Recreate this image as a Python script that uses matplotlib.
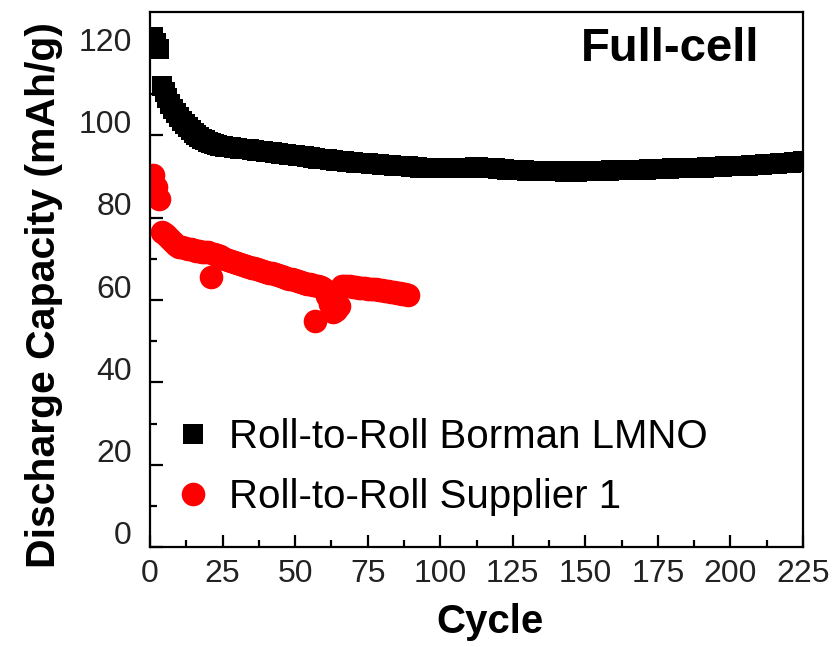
import matplotlib
matplotlib.use("Agg")
import matplotlib.pyplot as plt
import matplotlib.transforms as mtransforms
import numpy as np

plt.rcParams["font.family"] = ["Liberation Sans", "DejaVu Sans"]

# Roll-to-Roll Borman LMNO, cycles 1..225 (mAh/g)
borman_capacity = [
    124.0, 122.5, 121.0, 112.0, 110.5, 109.0, 107.7, 106.5, 105.4, 104.4,
    103.5, 102.7, 102.0, 101.3, 100.7, 100.2, 99.7, 99.2, 98.8, 98.4,
    98.1, 97.9, 97.7, 97.5, 97.4, 97.3, 97.2, 97.1, 97.0, 96.9,
    96.8, 96.7, 96.7, 96.6, 96.5, 96.4, 96.3, 96.2, 96.2, 96.1,
    96.0, 95.9, 95.8, 95.7, 95.6, 95.5, 95.4, 95.3, 95.3, 95.2,
    95.1, 95.0, 94.9, 94.8, 94.7, 94.6, 94.5, 94.4, 94.4, 94.3,
    94.2, 94.1, 94.0, 93.9, 93.8, 93.8, 93.7, 93.6, 93.5, 93.5,
    93.4, 93.4, 93.3, 93.2, 93.2, 93.1, 93.1, 93.0, 93.0, 92.9,
    92.9, 92.8, 92.8, 92.7, 92.7, 92.6, 92.6, 92.5, 92.5, 92.4,
    92.3, 92.3, 92.2, 92.2, 92.1, 92.1, 92.0, 92.0, 92.0, 92.0,
    92.0, 92.0, 92.0, 92.0, 92.0, 92.1, 92.1, 92.1, 92.2, 92.2,
    92.2, 92.3, 92.3, 92.2, 92.2, 92.1, 92.1, 92.0, 92.0, 91.9,
    91.8, 91.8, 91.7, 91.7, 91.6, 91.6, 91.5, 91.5, 91.5, 91.4,
    91.4, 91.4, 91.4, 91.3, 91.3, 91.3, 91.3, 91.3, 91.3, 91.3,
    91.3, 91.3, 91.2, 91.2, 91.2, 91.2, 91.2, 91.3, 91.3, 91.3,
    91.3, 91.3, 91.3, 91.4, 91.4, 91.4, 91.4, 91.4, 91.5, 91.5,
    91.5, 91.5, 91.5, 91.6, 91.6, 91.6, 91.6, 91.7, 91.7, 91.7,
    91.7, 91.8, 91.8, 91.8, 91.8, 91.9, 91.9, 91.9, 91.9, 92.0,
    92.0, 92.0, 92.0, 92.1, 92.1, 92.1, 92.1, 92.2, 92.2, 92.2,
    92.2, 92.3, 92.3, 92.3, 92.4, 92.4, 92.4, 92.5, 92.5, 92.5,
    92.6, 92.6, 92.6, 92.7, 92.7, 92.7, 92.8, 92.8, 92.8, 92.9,
    92.9, 93.0, 93.0, 93.0, 93.1, 93.1, 93.2, 93.2, 93.3, 93.3,
    93.4, 93.5, 93.5, 93.6, 93.7,
]
borman_cycle = np.arange(1, len(borman_capacity) + 1)

# Roll-to-Roll Supplier 1, cycles 1..89 (mAh/g)
supplier_capacity = [
    90.5, 87.5, 84.5, 76.5, 76.0, 75.5, 74.8, 74.0, 73.4, 73.0,
    72.8, 72.6, 72.5, 72.3, 72.2, 72.0, 71.9, 71.8, 71.7, 71.6,
    65.5, 71.2, 70.9, 70.6, 70.3, 70.0, 69.7, 69.5, 69.2, 69.0,
    68.8, 68.6, 68.4, 68.1, 67.9, 67.7, 67.5, 67.3, 67.1, 66.9,
    66.7, 66.5, 66.3, 66.1, 65.9, 65.6, 65.4, 65.2, 65.0, 64.8,
    64.6, 64.4, 64.2, 64.0, 63.8, 63.6, 55.0, 63.3, 63.2, 62.8,
    61.0, 59.0, 57.0, 57.5, 58.5, 63.3, 63.5, 63.4, 63.3, 63.2,
    63.1, 63.0, 62.9, 62.9, 62.8, 62.7, 62.7, 62.6, 62.5, 62.4,
    62.3, 62.2, 62.0, 61.9, 61.8, 61.6, 61.5, 61.4, 61.3,
]
supplier_cycle = np.arange(1, len(supplier_capacity) + 1)

x_ticks = [0, 25, 50, 75, 100, 125, 150, 175, 200, 225]
y_ticks = [0, 20, 40, 60, 80, 100, 120]

fig = plt.figure(figsize=(8.36, 6.47), dpi=100)
ax = fig.add_axes([150 / 836, 1 - 547 / 647, (803 - 150) / 836, (547 - 12) / 647])

ax.plot(borman_cycle, borman_capacity, linestyle="none", marker="s",
        markersize=14.5, markeredgewidth=0, color="black",
        label="Roll-to-Roll Borman LMNO")
ax.plot(supplier_cycle, supplier_capacity, linestyle="none", marker="o",
        markersize=17, markeredgewidth=0, color="#ff0000",
        label="Roll-to-Roll Supplier 1")

ax.set_xlim(0, 225)
ax.set_ylim(0, 130)
ax.set_xticks(x_ticks)
ax.set_yticks(y_ticks)
ax.set_xticks(np.arange(12.5, 225, 25), minor=True)
ax.set_yticks(np.arange(10, 130, 20), minor=True)

for side in ax.spines.values():
    side.set_linewidth(1.6)

ax.tick_params(which="both", direction="in", width=1.6, colors="black",
               labelcolor="#222222", labelsize=23)
ax.tick_params(which="major", length=9)
ax.tick_params(which="minor", length=5)
ax.tick_params(axis="x", pad=9)
ax.tick_params(axis="y", pad=13)

# y tick labels sit slightly above their ticks in the original
shift = mtransforms.ScaledTranslation(0, 14 / 100, fig.dpi_scale_trans)
for lbl in ax.yaxis.get_majorticklabels():
    lbl.set_transform(lbl.get_transform() + shift)

fig.text(44 / 836, 1 - 295 / 647, "Discharge Capacity (mAh/g)", rotation=90,
         ha="center", va="center", fontsize=29.5, fontweight="bold")
fig.text(490 / 836, 1 - 622 / 647, "Cycle", ha="center", va="center",
         fontsize=29, fontweight="bold")
ax.text(0.796, 0.93, "Full-cell", transform=ax.transAxes, ha="center",
        va="center", fontsize=34, fontweight="bold")

ax.legend(loc="upper left", bbox_to_anchor=(177 / 836, 1 - 418 / 647),
          bbox_transform=fig.transFigure, frameon=False, fontsize=29,
          handlelength=0.8, handletextpad=0.5, labelspacing=0.55,
          borderpad=0, borderaxespad=0)

fig.savefig("out.png", dpi=100)
